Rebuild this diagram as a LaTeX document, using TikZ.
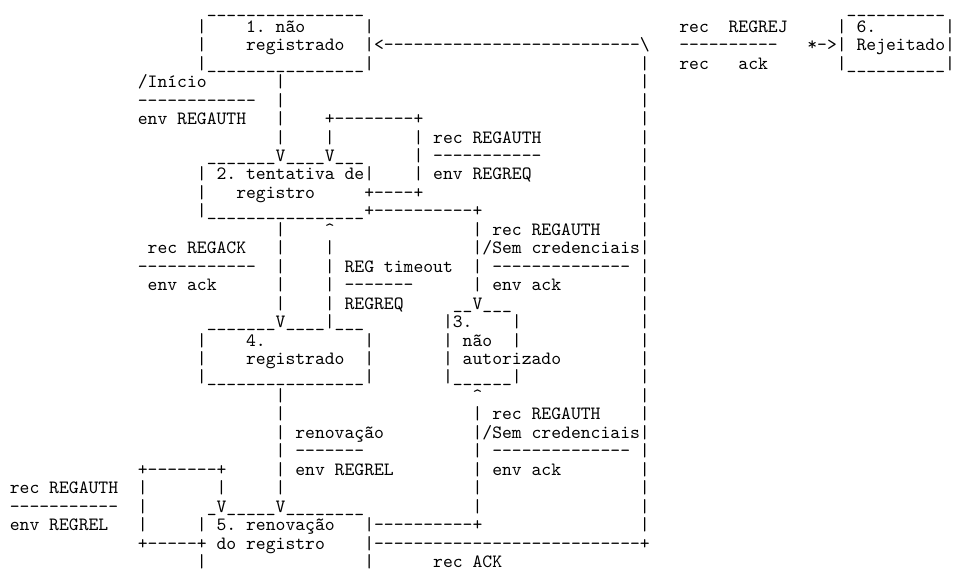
\documentclass[tikz,border=0pt]{standalone}
\usepackage{tikz}
% one glyph repeated, kern keeps the run free of --/--- ligatures
\newcommand{\repch}[2]{\foreach\k in {1,...,#1}{#2\kern0pt}}

\begin{document}
\begin{tikzpicture}[
  x=5.25pt, y=-9.84pt,
  cell/.style={anchor=base west, inner sep=0pt, outer sep=0pt,
    font={\ttfamily\frenchspacing}, yshift=-2.5pt}
]
\path[use as bounding box, fill=white] (0,0) rectangle (97,31);

% estado 1 e estado 6
\node[cell] (s1top) at (21,0.5) {\repch{16}{\_}};
\node[cell] (s6top) at (86,0.5) {\repch{10}{\_}};
\node[cell] (s1l1) at (20,1.5) {|};
\node[cell] (s1name) at (25,1.5) {1. não};
\node[cell] (s1r1) at (37,1.5) {|};
\node[cell] (rejrec) at (69,1.5) {rec};
\node[cell] (rejmsg) at (74,1.5) {REGREJ};
\node[cell] (s6l1) at (85,1.5) {|};
\node[cell] (s6name) at (87,1.5) {6.};
\node[cell] (s6r1) at (96,1.5) {|};
\node[cell] (s1l2) at (20,2.5) {|};
\node[cell] (s1name2) at (25,2.5) {registrado};
\node[cell] (back) at (37,2.5) {|<\repch{26}{-}\textbackslash};
\node[cell] (rejbar) at (69,2.5) {\repch{10}{-}};
\node[cell] (rejarrow) at (82,2.5) {*->|};
\node[cell] (s6name2) at (87,2.5) {Rejeitado|};
\node[cell] (s1bot) at (20,3.5) {|\repch{16}{\_}|};
\node[cell] (rejack1) at (69,3.5) {rec};
\node[cell] (rejack2) at (75,3.5) {ack};
\node[cell] (s6bot) at (85,3.5) {|\repch{10}{\_}|};

% inicio
\node[cell] (start) at (14,4.5) {/Início};
\node[cell] (startbar) at (14,5.5) {\repch{12}{-}};
\node[cell] (startsend) at (14,6.5) {env REGAUTH};
\node[cell] (loop2top) at (33,6.5) {+\repch{8}{-}+};
\node[cell] (loop2l) at (33,7.5) {|};
\node[cell] (loop2r1) at (42,7.5) {|};
\node[cell] (authrec) at (44,7.5) {rec REGAUTH};
\node[cell] (loop2r2) at (42,8.5) {|};
\node[cell] (authbar) at (44,8.5) {\repch{11}{-}};
\node[cell] (loop2r3) at (42,9.5) {|};
\node[cell] (authsend) at (44,9.5) {env REGREQ};

% estado 2
\node[cell] (s2top) at (21,8.5) {\repch{7}{\_}V\repch{4}{\_}V\repch{3}{\_}};
\node[cell] (s2l1) at (20,9.5) {|};
\node[cell] (s2name) at (22,9.5) {2. tentativa de|};
\node[cell] (s2l2) at (20,10.5) {|};
\node[cell] (s2name2) at (24,10.5) {registro};
\node[cell] (loop2bot) at (37,10.5) {+\repch{4}{-}+};
\node[cell] (s2bot) at (20,11.5) {|\repch{16}{\_}+\repch{10}{-}+};

% 2 -> 4, 4 -> 2, 2 -> 3
\node[cell] (up4) at (33,12.5) {\textasciicircum};
\node[cell] (to3a) at (48,12.5) {|};
\node[cell] (norec1) at (50,12.5) {rec REGAUTH};
\node[cell] (ackrec) at (15,13.5) {rec REGACK};
\node[cell] (nocred1) at (48,13.5) {|/Sem credenciais|};
\node[cell] (ackbar) at (14,14.5) {\repch{12}{-}};
\node[cell] (tmo) at (35,14.5) {REG timeout};
\node[cell] (to3b) at (48,14.5) {|};
\node[cell] (nobar1) at (50,14.5) {\repch{14}{-}};
\node[cell] (acksend) at (15,15.5) {env ack};
\node[cell] (tmobar) at (35,15.5) {\repch{7}{-}};
\node[cell] (to3c) at (48,15.5) {|};
\node[cell] (nosend1) at (50,15.5) {env ack};
\node[cell] (tmosend) at (35,16.5) {REGREQ};
\foreach \r in {13,...,16}
  \node[cell] (up4\r) at (33,\r+0.5) {|};

% estado 4 e estado 3
\node[cell] (s3top) at (46,16.5) {\repch{2}{\_}V\repch{3}{\_}};
\node[cell] (s4top) at (21,17.5) {\repch{7}{\_}V\repch{4}{\_}|\repch{3}{\_}};
\node[cell] (s3name) at (45,17.5) {|3.};
\node[cell] (s3r1) at (52,17.5) {|};
\node[cell] (s4l1) at (20,18.5) {|};
\node[cell] (s4name) at (25,18.5) {4.};
\node[cell] (s4r1) at (37,18.5) {|};
\node[cell] (s3l2) at (45,18.5) {|};
\node[cell] (s3name2) at (47,18.5) {não};
\node[cell] (s3r2) at (52,18.5) {|};
\node[cell] (s4l2) at (20,19.5) {|};
\node[cell] (s4name2) at (25,19.5) {registrado};
\node[cell] (s4r2) at (37,19.5) {|};
\node[cell] (s3l3) at (45,19.5) {|};
\node[cell] (s3name3) at (47,19.5) {autorizado};
\node[cell] (s4bot) at (20,20.5) {|\repch{16}{\_}|};
\node[cell] (s3bot) at (45,20.5) {|\repch{6}{\_}|};

% 4 -> 5, 5 -> 3
\node[cell] (up3) at (48,21.5) {\textasciicircum};
\node[cell] (to3d) at (48,22.5) {|};
\node[cell] (norec2) at (50,22.5) {rec REGAUTH};
\node[cell] (renew) at (30,23.5) {renovação};
\node[cell] (nocred2) at (48,23.5) {|/Sem credenciais|};
\node[cell] (renewbar) at (30,24.5) {\repch{7}{-}};
\node[cell] (to3e) at (48,24.5) {|};
\node[cell] (nobar2) at (50,24.5) {\repch{14}{-}};
\node[cell] (loop5top) at (14,25.5) {+\repch{7}{-}+};
\node[cell] (renewsend) at (30,25.5) {env REGREL};
\node[cell] (to3f) at (48,25.5) {|};
\node[cell] (nosend2) at (50,25.5) {env ack};
\node[cell] (relrec) at (1,26.5) {rec REGAUTH};
\node[cell] (loop5l1) at (14,26.5) {|};
\node[cell] (loop5r) at (22,26.5) {|};
\node[cell] (to3g) at (48,26.5) {|};
\node[cell] (relbar) at (1,27.5) {\repch{11}{-}};
\node[cell] (loop5l2) at (14,27.5) {|};
\node[cell] (to3h) at (48,27.5) {|};

% estado 5
\node[cell] (s5top) at (21,27.5) {\_V\repch{5}{\_}V\repch{8}{\_}};
\node[cell] (relsend) at (1,28.5) {env REGREL};
\node[cell] (loop5l3) at (14,28.5) {|};
\node[cell] (s5l1) at (20,28.5) {|};
\node[cell] (s5name) at (22,28.5) {5. renovação};
\node[cell] (s5out1) at (37,28.5) {|\repch{10}{-}+};
\node[cell] (loop5bot) at (14,29.5) {+\repch{5}{-}+};
\node[cell] (s5name2) at (22,29.5) {do registro};
\node[cell] (s5out2) at (37,29.5) {|\repch{27}{-}+};
\node[cell] (s5l2) at (20,30.5) {|};
\node[cell] (s5r) at (37,30.5) {|};
\node[cell] (regack) at (44,30.5) {rec ACK};

% linhas verticais longas
\foreach \r in {4,...,7,12,13,...,16,21,22,...,26}
  \node[cell] (down\r) at (28,\r+0.5) {|};
\foreach \r in {3,...,12,14,15,...,22,24,25,...,28}
  \node[cell] (ret\r) at (65,\r+0.5) {|};
\end{tikzpicture}
\end{document}
